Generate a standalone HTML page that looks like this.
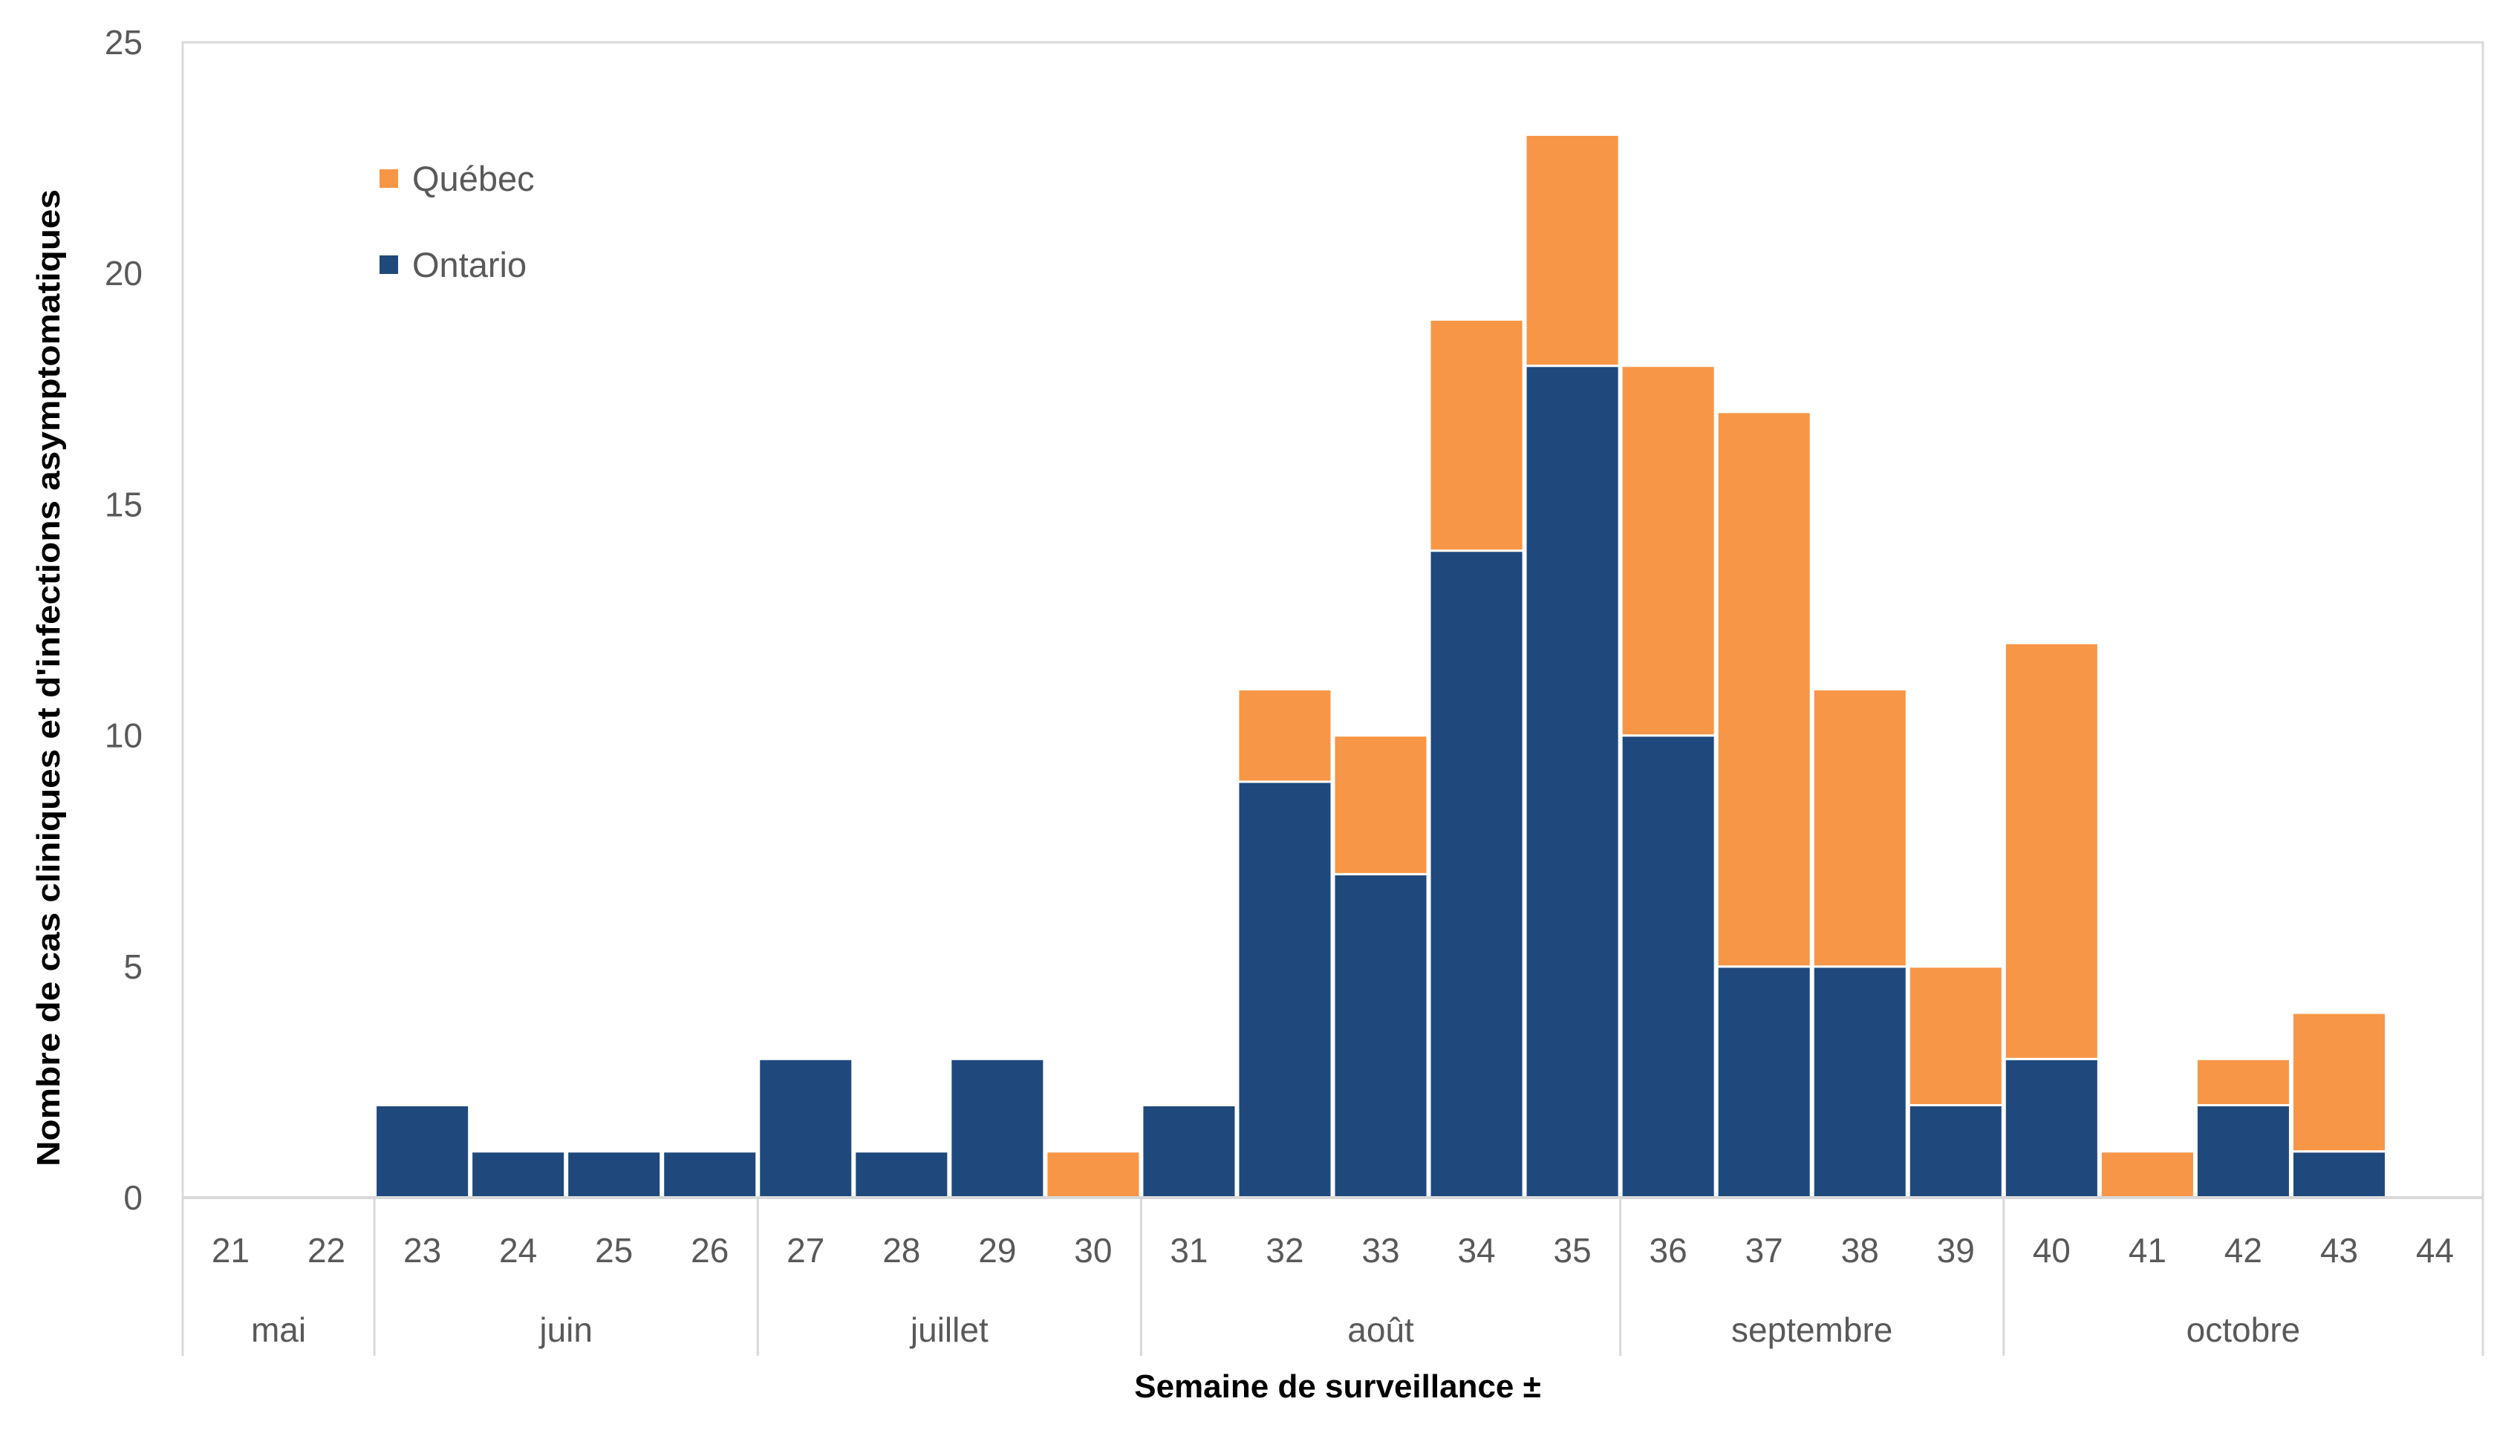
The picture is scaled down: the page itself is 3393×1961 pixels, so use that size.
<!DOCTYPE html>
<html><head><meta charset="utf-8"><style>
body{margin:0;background:#fff;}
svg text{font-family:"Liberation Sans",sans-serif;}
</style></head><body>
<svg id="chart" width="3393" height="1956" viewBox="0 0 3393 1956" xmlns="http://www.w3.org/2000/svg">
<rect x="0" y="0" width="3393" height="1956" fill="#fff"/>
<g id="plot"></g>
</svg>
<script>
const weeks = ["21","22","23","24","25","26","27","28","29","30","31","32","33","34","35","36","37","38","39","40","41","42","43","44"];
const ontario = [0,0,2,1,1,1,3,1,3,0,2,9,7,14,18,10,5,5,2,3,0,2,1,0];
const quebec = [0,0,0,0,0,0,0,0,0,1,0,2,3,5,5,8,12,6,3,9,1,1,3,0];
const months = ["mai","juin","juillet","août","septembre","octobre"];
const monthStarts = [0,2,6,10,15,19];
const monthEnds = [2,6,10,15,19,24];
const yTicks = [0,5,10,15,20,25];

const NS="http://www.w3.org/2000/svg";
const svg=document.getElementById('chart');
const L=246,R=3343,T=57,B=1613,yMax=25;
const cw=(R-L)/weeks.length;
const xs=i=>L+i*cw;
const ys=v=>B-(v/yMax)*(B-T);
function mk(tag,attrs,parent){const e=document.createElementNS(NS,tag);for(const k in attrs)e.setAttribute(k,attrs[k]);(parent||svg).appendChild(e);return e;}

let e=mk('rect',{x:L,y:T,width:R-L,height:B-T,fill:'none',stroke:'#d9d9d9','stroke-width':3});



yTicks.forEach(v=>{
  const t=mk('text',{x:192,y:ys(v)+16,'text-anchor':'end','font-size':46,fill:'#595959'});
  t.textContent=v;
  
  
});

weeks.forEach((w,i)=>{
  if(ontario[i]>0){
    const r=mk('rect',{x:xs(i)+1.5,y:ys(ontario[i]),width:cw-3,height:ys(0)-ys(ontario[i]),fill:'#1f497d',stroke:'#fff','stroke-width':3});
    
    
  }
  if(quebec[i]>0){
    const top=ontario[i]+quebec[i];
    const r=mk('rect',{x:xs(i)+1.5,y:ys(top),width:cw-3,height:ys(ontario[i])-ys(top),fill:'#f79646',stroke:'#fff','stroke-width':3});
    
    
  }
  const t=mk('text',{x:xs(i)+cw/2,y:1700,'text-anchor':'middle','font-size':46,fill:'#595959'});
  t.textContent=w;
  
  
});

e=mk('line',{x1:L,y1:B,x2:R,y2:B,stroke:'#d9d9d9','stroke-width':4});



months.forEach((m,k)=>{
  const s=monthStarts[k],en=monthEnds[k];
  const ln=mk('line',{x1:xs(s),y1:B,x2:xs(s),y2:1826,stroke:'#d9d9d9','stroke-width':3});
  
  
  const t=mk('text',{x:(xs(s)+xs(en))/2,y:1807,'text-anchor':'middle','font-size':46,fill:'#595959'});
  t.textContent=m;
  
  
});
e=mk('line',{x1:R,y1:B,x2:R,y2:1826,stroke:'#d9d9d9','stroke-width':3});



e=mk('rect',{x:511,y:228,width:25,height:25,fill:'#f79646'});


e=mk('text',{x:555,y:257,'font-size':47,fill:'#595959'});e.textContent='Québec';


e=mk('rect',{x:511,y:344,width:25,height:25,fill:'#1f497d'});


e=mk('text',{x:555,y:373,'font-size':47,fill:'#595959'});e.textContent='Ontario';



e=mk('text',{x:0,y:0,'text-anchor':'middle','font-size':44,'font-weight':'bold',fill:'#000',transform:'translate(80,913) rotate(-90)',textLength:1316,lengthAdjust:'spacingAndGlyphs'});
e.textContent="Nombre de cas cliniques et d'infections asymptomatiques";


e=mk('text',{x:1801,y:1882,'text-anchor':'middle','font-size':44,'font-weight':'bold',fill:'#000'});
e.textContent="Semaine de surveillance ±";


</script>
</body></html>
